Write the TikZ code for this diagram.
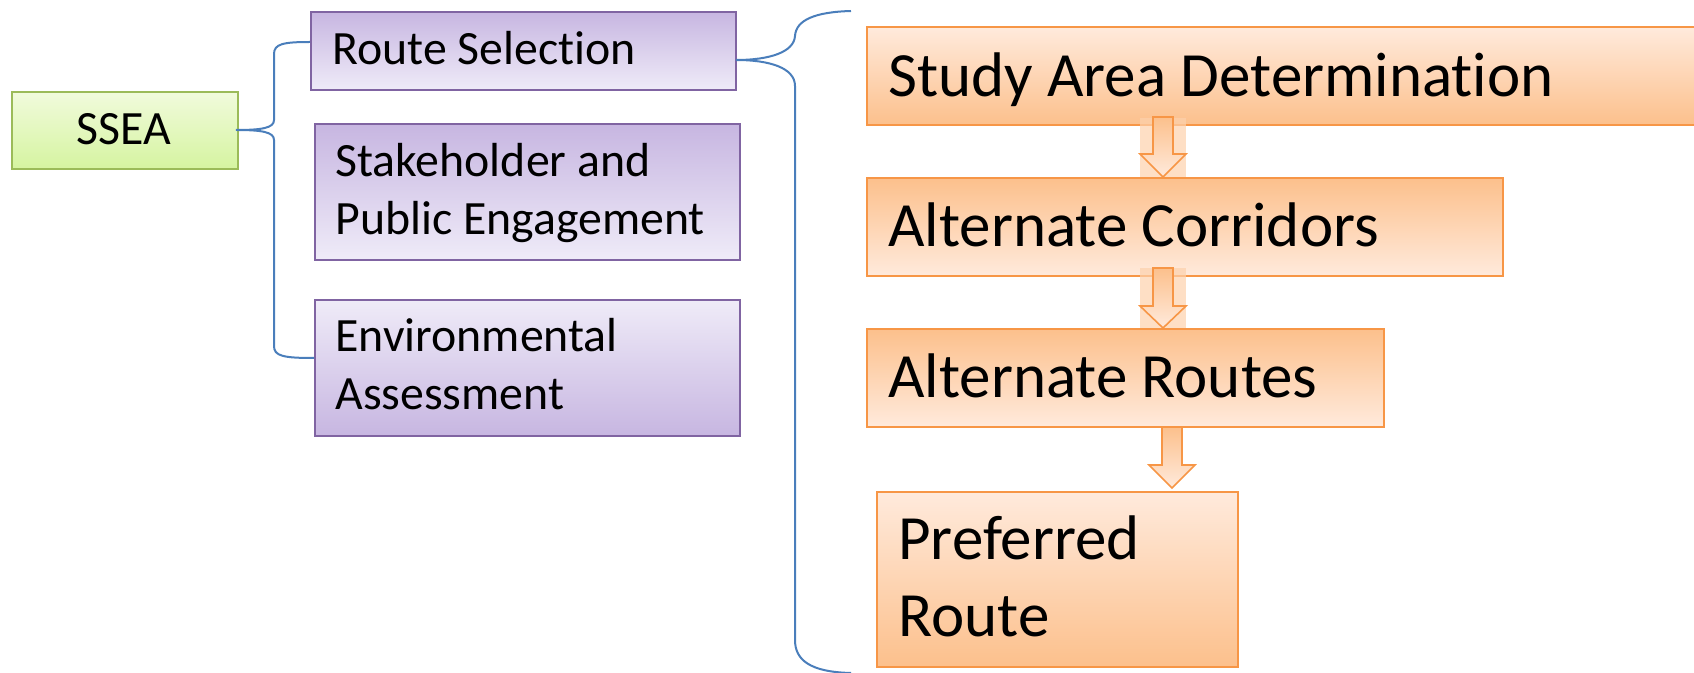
\documentclass[tikz,border=0pt]{standalone}
\usepackage{fontspec}
\setmainfont[Ligatures=NoCommon]{Carlito}
\definecolor{purpleline}{HTML}{8064A2}
\definecolor{purpledark}{HTML}{C7B6E1}
\definecolor{purplelight}{HTML}{EFEBF8}
\definecolor{greenline}{HTML}{9BBB59}
\definecolor{greentop}{HTML}{F1FBDC}
\definecolor{greenbottom}{HTML}{D5F4A0}
\definecolor{orangeline}{HTML}{F79646}
\definecolor{orangelight}{HTML}{FFEADC}
\definecolor{orangedark}{HTML}{FCC08C}
\definecolor{bracecol}{HTML}{4A7EBB}
\newcommand\downblock[4]{% centre x, shaft top, head base, tip
  \draw[blockarrow] (#1-10,#2) -- (#1+10,#2) -- (#1+10,#3) -- (#1+23,#3)
    -- (#1,#4) -- (#1-23,#3) -- (#1-10,#3) -- cycle;}
\begin{document}
\begin{tikzpicture}[x=0.5pt,y=-0.5pt,
  box/.style={line width=1pt, inner sep=0pt, anchor=north west},
  greenbox/.style={box, draw=greenline, top color=greentop, bottom color=greenbottom},
  purpledown/.style={box, draw=purpleline, top color=purpledark, bottom color=purplelight},
  purpleup/.style={box, draw=purpleline, top color=purplelight, bottom color=purpledark},
  orangedown/.style={box, draw=orangeline, top color=orangelight, bottom color=orangedark},
  orangeup/.style={box, draw=orangeline, top color=orangedark, bottom color=orangelight},
  smalltext/.style={anchor=base west, inner sep=0pt, font=\fontsize{23.9}{29}\selectfont},
  bigtext/.style={anchor=base west, inner sep=0pt, font=\fontsize{31.5}{38}\selectfont},
  blockarrow/.style={line width=0.8pt, draw=orangeline, top color=orangedark, bottom color=orangelight},
  glow/.style={fill=orangedark!60!orangelight, opacity=0.7},
  brace/.style={draw=bracecol, line width=1pt}]
\useasboundingbox (0,0) rectangle (1694,673);

% left column
\node[greenbox, minimum width=113pt, minimum height=38.5pt] (ssea) at (11,91) {};
\node[anchor=base, inner sep=0pt, font=\fontsize{23.9}{29}\selectfont] (ssea-t) at (124,145) {SSEA};

\node[purpledown, minimum width=212.5pt, minimum height=39pt] (rs) at (310,11) {};
\node[smalltext] (rs-t) at (332,65) {Route Selection};

\node[purpledown, minimum width=212.5pt, minimum height=68pt] (sh) at (314,123) {};
\node[smalltext] (sh-t1) at (335,177) {Stakeholder and};
\node[smalltext] (sh-t2) at (335,235) {Public Engagement};

\node[purpleup, minimum width=212.5pt, minimum height=68pt] (ea) at (314,299) {};
\node[smalltext] (ea-t1) at (335,352) {Environmental};
\node[smalltext] (ea-t2) at (335,410) {Assessment};

% right column
\node[orangedown, minimum width=420pt, minimum height=49pt] (sad) at (866,26) {};
\node[bigtext] (sad-t) at (888,97) {Study Area Determination};

\node[orangeup, minimum width=318pt, minimum height=49pt] (ac) at (866,177) {};
\node[bigtext] (ac-t) at (888,247) {Alternate Corridors};

\node[orangeup, minimum width=258.5pt, minimum height=49pt] (ar) at (866,328) {};
\node[bigtext] (ar-t) at (888,398) {Alternate Routes};

\node[orangedown, minimum width=180.5pt, minimum height=87.5pt] (pr) at (876,491) {};
\node[bigtext] (pr-t1) at (898,560) {Preferred};
\node[bigtext] (pr-t2) at (898,637) {Route};

% block arrows between the steps
\fill[glow] (1140,118) rectangle (1186,177);
\fill[glow] (1140,268) rectangle (1186,328);
\downblock{1163}{117}{154}{177}
\downblock{1163}{268}{306}{328}
\downblock{1172}{427}{465}{488}

% brace from SSEA to its three parts
\coordinate (lb-tip) at (236,130);
\coordinate (lb-top) at (310,42);
\coordinate (lb-bot) at (314,358);
\draw[brace] (lb-top) .. controls (283,42) and (274,44) .. (274,54)
  -- (274,120) .. controls (274,128) and (262,130) .. (lb-tip)
  .. controls (262,130) and (274,132) .. (274,140)
  -- (274,346) .. controls (274,356) and (283,358) .. (lb-bot);

% brace from Route Selection to the route steps
\coordinate (rb-tip) at (736,60);
\coordinate (rb-top) at (851,11);
\coordinate (rb-bot) at (851,673);
\draw[brace] (rb-top) .. controls (815,12) and (796,20) .. (795,36)
  .. controls (794,52) and (770,60) .. (rb-tip)
  .. controls (770,60) and (795,68) .. (795,86)
  -- (795,640) .. controls (795,660) and (810,672) .. (rb-bot);
\end{tikzpicture}
\end{document}
